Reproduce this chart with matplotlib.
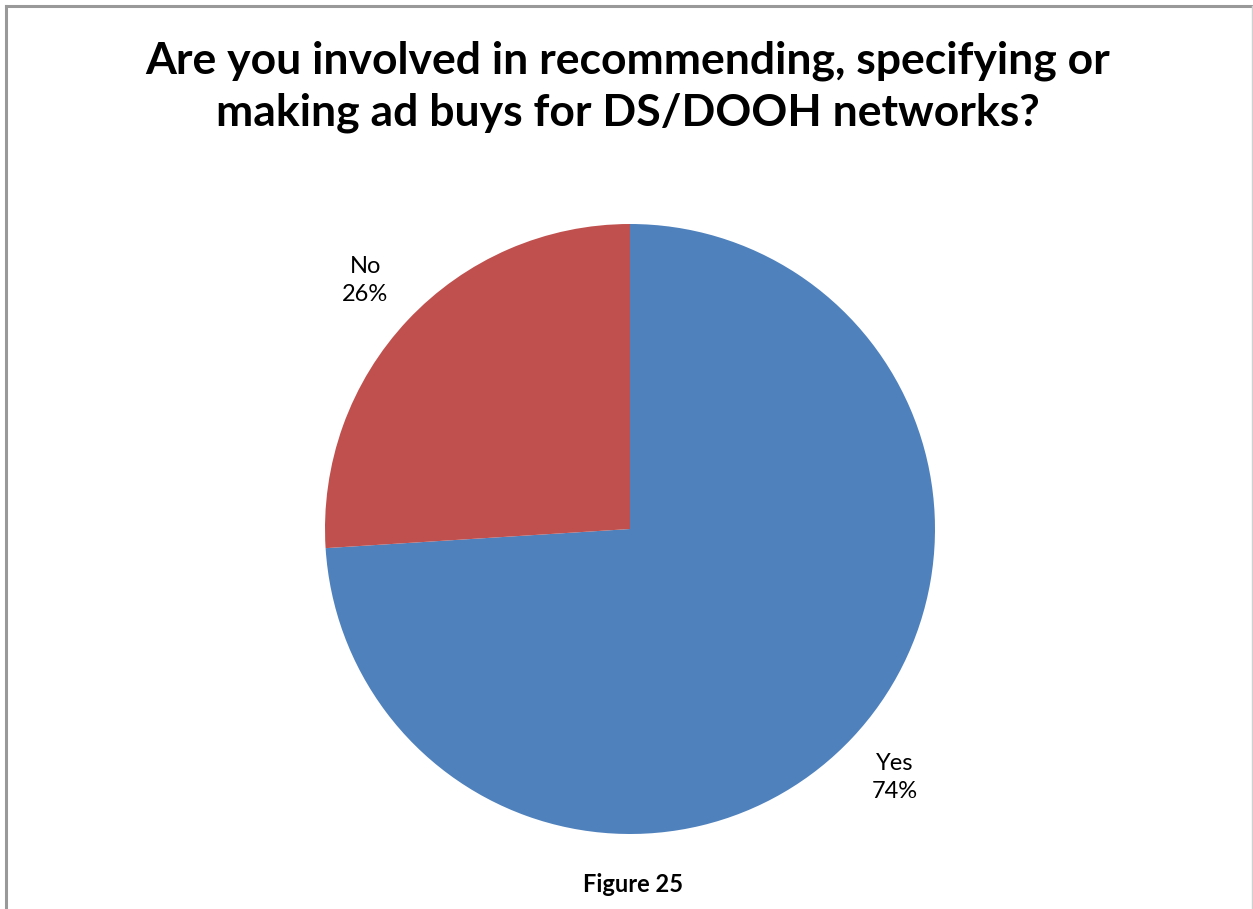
import matplotlib
matplotlib.use("Agg")
import matplotlib.pyplot as plt
import numpy as np

categories = ["Yes", "No"]
shares = [74, 26]
colors = ["#4F81BD", "#C0504D"]

title = "Are you involved in recommending, specifying or\nmaking ad buys for DS/DOOH networks?"
caption = "Figure 25"

W, H = 1253, 909
fig = plt.figure(figsize=(W / 100, H / 100), dpi=100)
fig.patch.set_facecolor("white")

font = ["Lato", "DejaVu Sans"]

# chart frame (left, top and right edges)
fig.add_artist(plt.Line2D([6 / W, 6 / W], [0, 1 - 6 / H], color="#999999", lw=2.2,
                          transform=fig.transFigure))
fig.add_artist(plt.Line2D([6 / W, 1252 / W], [1 - 6 / H, 1 - 6 / H], color="#999999", lw=2.2,
                          transform=fig.transFigure))
fig.add_artist(plt.Line2D([1251.5 / W, 1251.5 / W], [0, 1 - 6 / H], color="#d0d0d0", lw=1,
                          transform=fig.transFigure))

# pie area
cx, cy, r = 630, 529, 305
ax = fig.add_axes([(cx - r) / W, (H - cy - r) / H, 2 * r / W, 2 * r / H])
wedges, _ = ax.pie(shares, colors=colors, startangle=90, counterclock=False,
                   radius=1.0, wedgeprops=dict(linewidth=0))
ax.set_xlim(-1, 1)
ax.set_ylim(-1, 1)
ax.set_aspect("auto")
ax.axis("off")

for w, cat, v in zip(wedges, categories, shares):
    ang = np.deg2rad((w.theta1 + w.theta2) / 2)
    d = 1.19
    ax.text(d * np.cos(ang), d * np.sin(ang), f"{cat}\n{v}%", ha="center", va="center",
            fontsize=17, family=font, linespacing=1.45, clip_on=False)

fig.text(628 / W, 1 - 87 / H, title, ha="center", va="center", fontsize=32,
         fontweight="bold", family=font, linespacing=1.35)
fig.text(633 / W, 1 - 885 / H, caption, ha="center", va="center", fontsize=17,
         fontweight="bold", family=font)

fig.savefig("out.png", dpi=100, facecolor="white")
